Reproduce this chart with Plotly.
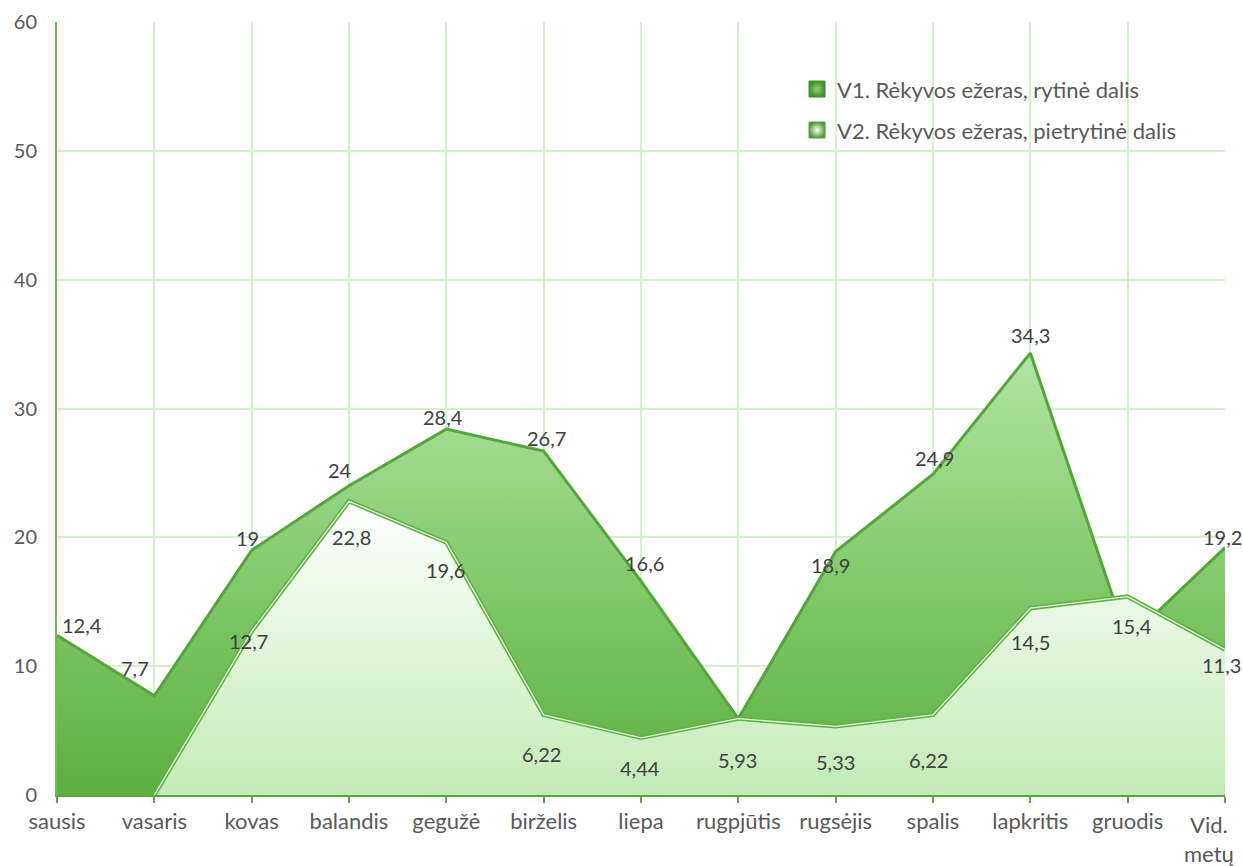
import plotly.graph_objects as go

# Months plus the annual average
months = ["sausis", "vasaris", "kovas", "balandis", "gegužė", "birželis", "liepa",
          "rugpjūtis", "rugsėjis", "spalis", "lapkritis", "gruodis", "Vid.<br>metų"]

v1_name = "V1. Rėkyvos ežeras, rytinė dalis"
v2_name = "V2. Rėkyvos ežeras, pietrytinė dalis"

v1_values = [12.4, 7.7, 19, 24, 28.4, 26.7, 16.6, 5.93, 18.9, 24.9, 34.3, 12.0, 19.2]
v2_values = [None, None, 12.7, 22.8, 19.6, 6.22, 4.44, 5.93, 5.33, 6.22, 14.5, 15.4, 11.3]

# Which points carry a value label
v1_labelled = [True, True, True, True, True, True, True, False, True, True, True, False, True]
v2_labelled = [v is not None for v in v2_values]

# Label offsets in pixels (dx, dy)
v1_offsets = [(25, 10), (-19, 28), (-4, 12), (-9, 16), (-3, 12), (3, 13), (3, 18),
              (0, 12), (-5, -13), (1, 16), (0, 18), (0, 12), (-3, 11)]
v2_offsets = [(0, 0), (0, 0), (-3, -10), (2, -36), (-1, -28), (-2, -39), (-1, -30),
              (-1, -41), (0, -36), (-5, -45), (0, -34), (4, -29), (-4, -16)]

FONT = "Lato, 'Open Sans', sans-serif"


def fmt(v):
    return f"{v:g}".replace(".", ",")


# Empty cells are plotted as zero; the area starts at the point before the first value
first = next(i for i, v in enumerate(v2_values) if v is not None)
v2_x = months[max(first - 1, 0):]
v2_y = [0 if v is None else v for v in v2_values[max(first - 1, 0):]]

fig = go.Figure()

fig.add_trace(go.Scatter(
    x=months, y=v1_values, name=v1_name, mode="lines",
    line=dict(color="#55a63a", width=3),
    fill="tozeroy",
    fillgradient=dict(type="vertical", start=0, stop=34.3,
                      colorscale=[[0, "#5bb040"], [0.45, "#7fc768"], [1, "#b2e4a2"]]),
    showlegend=False, hoverinfo="x+y",
))

fig.add_trace(go.Scatter(
    x=v2_x, y=v2_y, name=v2_name, mode="lines",
    line=dict(color="#5fb443", width=4.5),
    fill="tozeroy",
    fillgradient=dict(type="vertical", start=0, stop=22.8,
                      colorscale=[[0, "#c3ebb6"], [1, "#ffffff"]]),
    showlegend=False, hoverinfo="x+y",
))

# Thin highlight along the V2 edge
fig.add_trace(go.Scatter(
    x=v2_x, y=v2_y, mode="lines", showlegend=False, hoverinfo="skip",
    line=dict(color="rgba(255,255,255,0.85)", width=1.3),
))

# Legend entries with bevelled square swatches
fig.add_trace(go.Scatter(
    x=[None], y=[None], mode="markers", name=v1_name, legend="legend",
    marker=dict(symbol="square", size=16, color="#3f8f2a",
                line=dict(color="#3f8f2a", width=1),
                gradient=dict(type="radial", color="#8ed47a")),
))
fig.add_trace(go.Scatter(
    x=[None], y=[None], mode="markers", name=v2_name, legend="legend2",
    marker=dict(symbol="square", size=16, color="#4f9f36",
                line=dict(color="#4f9f36", width=1),
                gradient=dict(type="radial", color="#ffffff")),
))

annotations = []
for series, labelled, offsets in ((v1_values, v1_labelled, v1_offsets),
                                  (v2_values, v2_labelled, v2_offsets)):
    for m, v, show, (dx, dy) in zip(months, series, labelled, offsets):
        if not show or v is None:
            continue
        annotations.append(dict(
            x=m, y=v, text=fmt(v), showarrow=False,
            xshift=dx, yshift=dy,
            font=dict(family=FONT, size=20, color="#404040"),
        ))

# The last category label sits a little inside the right edge
ticktext = months[:-1] + [""]
annotations.append(dict(
    x=months[-1], y=0, xref="x", yref="y", text=months[-1], showarrow=False,
    xanchor="center", yanchor="top", xshift=-16, yshift=-14,
    font=dict(family=FONT, size=22, color="#595959"),
))

legend_style = dict(xanchor="left", yanchor="middle", bgcolor="rgba(0,0,0,0)",
                    font=dict(family=FONT, size=22, color="#595959"), itemwidth=30)

fig.update_layout(
    width=1243, height=866,
    margin=dict(l=57, r=18, t=22, b=71, autoexpand=False),
    paper_bgcolor="white", plot_bgcolor="white",
    font=dict(family=FONT, size=20, color="#595959"),
    annotations=annotations,
    legend=dict(x=0.6336, y=0.913, **legend_style),
    legend2=dict(x=0.6336, y=0.860, **legend_style),
    xaxis=dict(
        type="category", range=[0, len(months) - 1],
        tickmode="array", tickvals=months, ticktext=ticktext,
        showgrid=True, gridcolor="#d6efcc", gridwidth=1.5,
        showline=True, linecolor="#5aa83c", linewidth=2,
        ticks="outside", tickcolor="#5aa83c", ticklen=6, tickwidth=2,
        tickfont=dict(family=FONT, size=22, color="#595959"),
        zeroline=False, automargin=False,
    ),
    yaxis=dict(
        range=[0, 60], dtick=10,
        showgrid=True, gridcolor="#d6efcc", gridwidth=1.5,
        showline=True, linecolor="#6cbf50", linewidth=2,
        ticks="", ticklabelstandoff=14,
        tickfont=dict(family=FONT, size=20, color="#595959"),
        zeroline=False, automargin=False,
    ),
)

fig.write_html("out.html")
